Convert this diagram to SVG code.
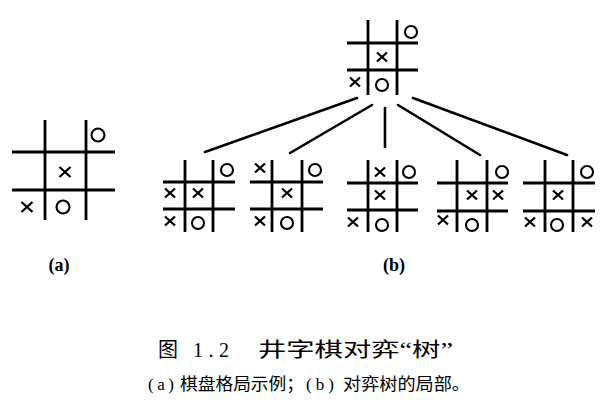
<svg xmlns="http://www.w3.org/2000/svg" xmlns:xlink="http://www.w3.org/1999/xlink" width="607" height="412" viewBox="0 0 607 412">
<style>
.g{stroke:#000;stroke-width:2.8;fill:none;stroke-linecap:butt}
.x{stroke:#000;stroke-width:2.3;fill:none}
.o{stroke:#000;stroke-width:2.1;fill:none}
.c{stroke:#000;stroke-width:2.6;fill:none;stroke-linecap:round}
.lab{font-family:"Liberation Serif","DejaVu Serif",serif;font-weight:bold;font-size:18px;fill:#000}
.cap{font-family:"Liberation Serif","Noto Sans CJK SC",serif;fill:#000}
</style>
<defs>
<g id="X"><path class="x" d="M-5.5,-5 L5.5,5 M-5.5,5 L5.5,-5"/></g>
<g id="Xs"><path class="x" d="M-5,-4.5 L5,4.5 M-5,4.5 L5,-4.5"/></g>
<circle id="O" class="o" r="6.5"/>
<circle id="Os" class="o" r="6"/>
</defs>
<rect width="607" height="412" fill="#fff"/>

<g id="boardA">
<path class="g" d="M45,120V220M86,120V220M12,152H115M12,190H115"/>
<use xlink:href="#O" x="98" y="135"/>
<use xlink:href="#X" x="65" y="172"/>
<use xlink:href="#X" x="27" y="207"/>
<use xlink:href="#O" x="63" y="207"/>
</g>

<g id="root">
<path class="g" d="M368,20V95M397,20V95M347,43H418M347,70H418"/>
<use xlink:href="#Os" x="411" y="32"/>
<use xlink:href="#Xs" x="382" y="57"/>
<use xlink:href="#Xs" x="355" y="82"/>
<use xlink:href="#Os" x="382" y="85"/>
</g>

<g id="connectors">
<path class="c" d="M357,98L205,152"/>
<path class="c" d="M372,105L290,153"/>
<path class="c" d="M385,108L385,147"/>
<path class="c" d="M398,105L480,155"/>
<path class="c" d="M413,98L567,155"/>
</g>

<g id="child1">
<path class="g" d="M185,160V232M213,160V232M163,182H235M163,209H235"/>
<use xlink:href="#Os" x="227" y="170"/>
<use xlink:href="#Xs" x="170" y="193"/>
<use xlink:href="#Xs" x="198" y="193"/>
<use xlink:href="#Xs" x="170" y="221"/>
<use xlink:href="#Os" x="198" y="223"/>
</g>

<g id="child2">
<path class="g" d="M272,160V232M302,160V232M250,182H323M250,209H323"/>
<use xlink:href="#Xs" x="260" y="168"/>
<use xlink:href="#Os" x="315" y="170"/>
<use xlink:href="#Xs" x="287" y="193"/>
<use xlink:href="#Xs" x="260" y="221"/>
<use xlink:href="#Os" x="287" y="223"/>
</g>

<g id="child3">
<path class="g" d="M368,160V232M397,160V232M347,183H418M347,210H418"/>
<use xlink:href="#Xs" x="380" y="172"/>
<use xlink:href="#Os" x="409" y="172"/>
<use xlink:href="#Xs" x="380" y="195"/>
<use xlink:href="#Xs" x="353" y="222"/>
<use xlink:href="#Os" x="382" y="225"/>
</g>

<g id="child4">
<path class="g" d="M457,160V232M487,160V232M437,183H508M437,211H508"/>
<use xlink:href="#Os" x="502" y="172"/>
<use xlink:href="#Xs" x="472" y="195"/>
<use xlink:href="#Xs" x="498" y="195"/>
<use xlink:href="#Xs" x="443" y="220"/>
<use xlink:href="#Os" x="472" y="225"/>
</g>

<g id="child5">
<path class="g" d="M545,160V232M573,160V232M523,183H595M523,211H595"/>
<use xlink:href="#Os" x="587" y="172"/>
<use xlink:href="#Xs" x="558" y="195"/>
<use xlink:href="#Xs" x="530" y="222"/>
<use xlink:href="#Os" x="557" y="225"/>
<use xlink:href="#Xs" x="587" y="222"/>
</g>

<text class="lab" x="59" y="271" text-anchor="middle">(a)</text>
<text class="lab" x="394" y="271" text-anchor="middle">(b)</text>

<text class="cap" font-size="20" x="158" y="357">图</text>
<text class="cap" font-size="20" x="193" y="357" textLength="36">1.2</text>
<text class="cap" font-size="20" x="258" y="357" textLength="195" lengthAdjust="spacingAndGlyphs">井字棋对弈“树”</text>
<text class="cap" font-size="17" x="148" y="390" textLength="26">(a)</text>
<text class="cap" font-size="17" x="180" y="390" textLength="124" lengthAdjust="spacingAndGlyphs">棋盘格局示例；</text>
<text class="cap" font-size="17" x="306" y="390" textLength="28">(b)</text>
<text class="cap" font-size="17" x="343" y="390" textLength="127" lengthAdjust="spacingAndGlyphs">对弈树的局部。</text>
</svg>
